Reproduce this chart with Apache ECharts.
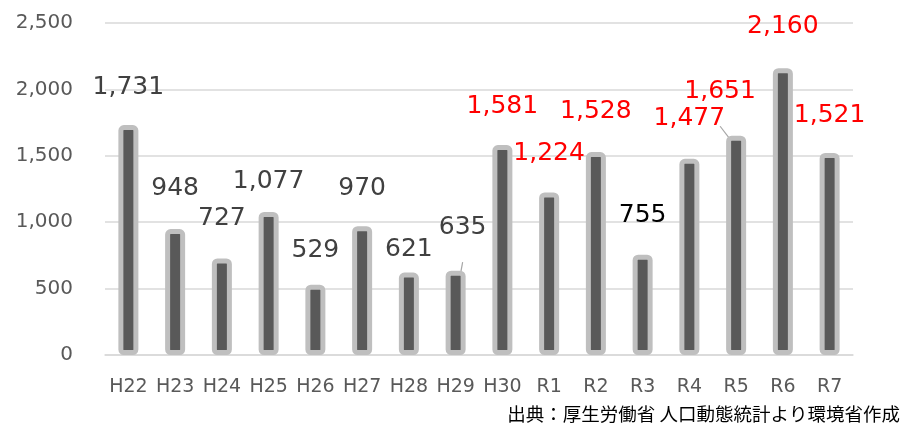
<!DOCTYPE html>
<html lang="ja">
<head>
    <meta charset="utf-8" />
    <title>人口動態統計</title>
    <script src="https://cdn.jsdelivr.net/npm/echarts@6/dist/echarts.min.js"></script>
</head>
<body style="margin: 0; background: #FFFFFF;">
    <div id="chart" style="width: 903px; height: 423px;"></div>
    <script>
    // 年度と件数
    const years = ['H22', 'H23', 'H24', 'H25', 'H26', 'H27', 'H28', 'H29', 'H30', 'R1', 'R2', 'R3', 'R4', 'R5', 'R6', 'R7']
    const counts = [1731, 948, 727, 1077, 529, 970, 621, 635, 1581, 1224, 1528, 755, 1477, 1651, 2160, 1521]
    const yTicks = [0, 500, 1000, 1500, 2000, 2500]
    const sourceText = '出典：厚生労働省 人口動態統計より環境省作成'

    // ラベルの位置調整 (dx, dy) と色
    const labelShift = [
        [0, -20], [0, -23], [0, -22], [0, -13], [0, -17], [0, -20], [0, -6], [7, -6],
        [0, -21], [0, -21], [0, -23], [0, -22], [0, -23], [-16, -7], [0, -24], [0, -20]
    ]
    // 引き出し線つきのラベル
    const withLine = ['H29', 'R5']

    function labelColor(i) {
        if (years[i] == 'R3') return '#000000'
        return i >= 8 ? '#FF0000' : '#404040'
    }

    const fmt = v => Number(v).toLocaleString('en-US')

    let chart = echarts.init(document.getElementById('chart'))

    chart.setOption({
        animation: false,
        grid: { left: 105, right: 50, top: 23, bottom: 68 },
        xAxis: {
            type: 'category',
            data: years,
            axisLine: { show: true, lineStyle: { color: '#d9d9d9', width: 1.5 } },
            axisTick: { show: false },
            axisLabel: {
                interval: 0,
                color: '#595959',
                fontFamily: 'DejaVu Sans',
                fontSize: 19,
                margin: 23
            }
        },
        yAxis: {
            type: 'value',
            min: yTicks[0],
            max: yTicks[yTicks.length - 1],
            interval: 500,
            axisLine: { show: false },
            axisTick: { show: false },
            splitLine: { lineStyle: { color: '#d9d9d9', width: 1.5 } },
            axisLabel: {
                color: '#595959',
                fontFamily: 'DejaVu Sans',
                fontSize: 20,
                margin: 32,
                formatter: fmt
            }
        },
        series: [{
            type: 'bar',
            barWidth: 20,
            data: counts.map((v, i) => ({
                value: v,
                label: { color: labelColor(i) },
                labelLine: { show: withLine.includes(years[i]) }
            })),
            itemStyle: {
                color: '#595959',
                borderColor: '#bfbfbf',
                borderWidth: 5,
                borderRadius: 3
            },
            label: {
                show: true,
                position: 'top',
                distance: 5,
                fontFamily: 'DejaVu Sans',
                fontSize: 25,
                // 引き出し線のある値は下に空白行をつけて線を短くする
                formatter: p => withLine.includes(years[p.dataIndex])
                    ? fmt(p.value) + '\n{gap|}'
                    : fmt(p.value),
                rich: {
                    gap: { height: 20, lineHeight: 20 }
                }
            },
            labelLine: {
                lineStyle: { color: '#a6a6a6', width: 1.2 }
            },
            labelLayout: p => ({
                dx: labelShift[p.dataIndex][0],
                dy: labelShift[p.dataIndex][1]
            })
        }],
        graphic: [{
            type: 'text',
            right: 3,
            bottom: 0,
            style: {
                text: sourceText,
                fill: '#000000',
                font: '18.5px "Noto Sans CJK JP"'
            }
        }]
    })
    </script>
</body>
</html>
